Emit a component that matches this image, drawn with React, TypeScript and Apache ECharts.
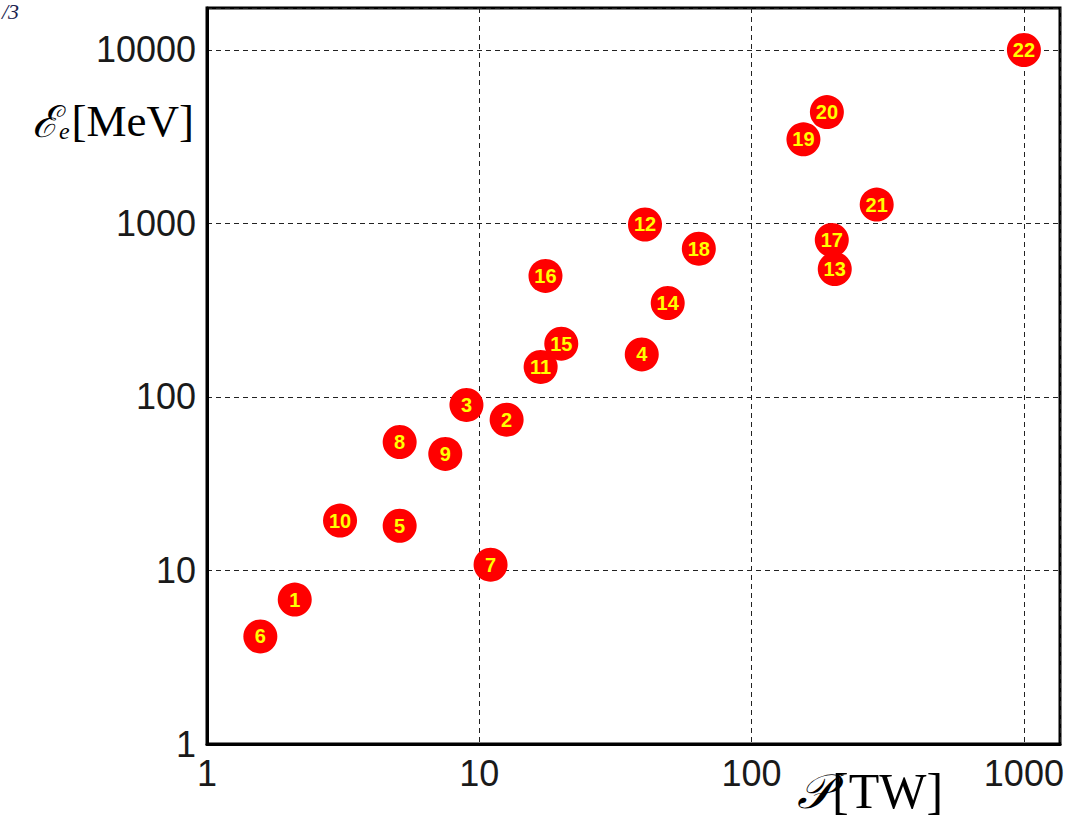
import React, { useEffect, useRef } from 'react';
import * as echarts from 'echarts';

// Experiment numbers shown inside the markers
const pointLabels = ['1','2','3','4','5','6','7','8','9','10','11','12','13','14','15','16','17','18','19','20','21','22'];
// Laser power P [TW]
const powerTW = [2.1, 12.6, 8.97, 39.5, 5.1, 1.57, 11.0, 5.1, 7.5, 3.08, 16.8, 40.6, 202, 49.2, 20.0, 17.5, 197, 64, 155, 189, 288, 1000];
// Electron energy E_e [MeV]
const energyMeV = [6.8, 74, 90, 176, 18.1, 4.17, 10.8, 55, 47, 19.4, 149, 987, 546, 348, 203, 499, 804, 716, 3055, 4385, 1285, 10000];
// Tick labels
const xTicks = [1, 10, 100, 1000];
const yTicks = [1, 10, 100, 1000, 10000];

export default function App() {
  const ref = useRef<HTMLDivElement>(null);
  useEffect(() => {
    if (!ref.current) return;
    const chart = echarts.init(ref.current, null, { renderer: 'svg' });
    const data = powerTW.map((p, i) => [p, energyMeV[i], pointLabels[i]]);
    const tickFmt = (ticks: number[]) => (v: number) => {
      const hit = ticks.find((t) => Math.abs(t - v) / t < 1e-6);
      return hit !== undefined ? String(hit) : '';
    };
    const tickLabel = {
      fontFamily: 'Liberation Sans, Arial, sans-serif',
      fontSize: 36,
      color: '#1a1a1a',
      margin: 11,
      showMaxLabel: false,
    };
    chart.setOption({
      animation: false,
      backgroundColor: '#ffffff',
      grid: {
        left: 207,
        right: 12,
        top: 8,
        bottom: 82,
        show: true,
        borderColor: '#000',
        borderWidth: 3,
        backgroundColor: 'transparent',
      },
      xAxis: {
        type: 'log',
        logBase: 10,
        min: 1,
        max: 1357,
        axisLine: { show: true, lineStyle: { color: '#000', width: 3 } },
        axisTick: { show: false },
        axisLabel: { ...tickLabel, formatter: tickFmt(xTicks) },
        splitLine: { show: true, lineStyle: { color: '#222', width: 1, type: [5, 4] } },
        minorTick: { show: false },
      },
      yAxis: {
        type: 'log',
        logBase: 10,
        min: 1,
        max: 17460,
        axisLine: { show: true, lineStyle: { color: '#000', width: 3 } },
        axisTick: { show: false },
        axisLabel: { ...tickLabel, formatter: tickFmt(yTicks) },
        splitLine: { show: true, lineStyle: { color: '#222', width: 1, type: [5, 4] } },
      },
      series: [
        {
          type: 'scatter',
          data,
          symbol: 'circle',
          symbolSize: 34,
          itemStyle: { color: '#ff0000', opacity: 1 },
          label: {
            show: true,
            position: 'inside',
            formatter: (p: any) => p.value[2],
            color: '#ffff00',
            fontFamily: 'Liberation Sans, Arial, sans-serif',
            fontWeight: 'bold',
            fontSize: 20,
          },
          z: 5,
        },
      ],
      graphic: [
        {
          type: 'text',
          left: 2,
          top: 0,
          style: {
            text: '/3',
            font: 'italic 22px "Liberation Serif", "DejaVu Serif", serif',
            fill: '#1c2450',
          },
        },
        {
          type: 'text',
          right: 878,
          top: 98,
          style: {
            text: '{a|ℰ}{b|e}{c|[MeV]}',
            rich: {
              a: { fontFamily: 'DejaVu Serif, serif', fontStyle: 'italic', fontSize: 44, color: '#111', verticalAlign: 'bottom' },
              b: { fontFamily: 'Liberation Serif, serif', fontStyle: 'italic', fontSize: 24, color: '#111', padding: [0, 2, 0, 0], verticalAlign: 'bottom' },
              c: { fontFamily: 'Liberation Serif, serif', fontSize: 45, color: '#111', verticalAlign: 'bottom' },
            },
          },
        },
        {
          type: 'text',
          left: 797,
          top: 766,
          style: {
            text: '{a|𝒫}{c|[TW]}',
            rich: {
              a: { fontFamily: 'DejaVu Serif, serif', fontStyle: 'italic', fontSize: 48, color: '#111' },
              c: { fontFamily: 'Liberation Serif, serif', fontSize: 50, color: '#111' },
            },
          },
        },
      ],
    });
    return () => chart.dispose();
  }, []);
  return (
    <div
      ref={ref}
      style={{ position: 'fixed', left: 0, top: 0, width: 1072, height: 826 }}
    />
  );
}
